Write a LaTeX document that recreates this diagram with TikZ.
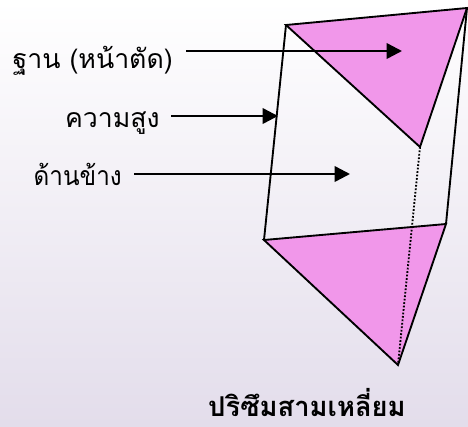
\documentclass[tikz,border=0pt]{standalone}
\usepackage{fontspec}
\setmainfont{Liberation Serif}
\newfontfamily\thaifont[Script=Thai]{Loma}
\usetikzlibrary{arrows.meta}
\definecolor{facepink}{HTML}{F197EA}
\definecolor{bgtop}{HTML}{FFFFFF}
\definecolor{bgbot}{HTML}{E3DDEB}
\tikzset{
  edgeline/.style={line width=1.4pt,black},
  facetri/.style={fill=facepink,draw=black,line width=1.4pt,line join=miter},
  hiddenline/.style={line width=1.4pt,black,dash pattern=on 1.3pt off 1.3pt},
  pointer/.style={line width=1.9pt,-{Triangle[length=11.5pt,width=11.5pt]}},
  lbl/.style={font=\thaifont\fontsize{20}{24}\selectfont,inner sep=0pt,text=black},
  ttl/.style={font=\thaifont\bfseries\fontsize{20.5}{24}\selectfont,inner sep=0pt,text=black}
}
\begin{document}
\begin{tikzpicture}[x=0.75pt,y=-0.75pt]
\useasboundingbox (0,0) rectangle (468,426);
\shade[top color=bgtop,bottom color=bgbot] (0,0) rectangle (468,426);
\coordinate (A) at (286,25);
\coordinate (B) at (467,8);
\coordinate (C) at (420,147);
\coordinate (D) at (264,240);
\coordinate (E) at (446,224);
\coordinate (F) at (398,365);
\draw[facetri] (A) -- (B) -- (C) -- cycle;
\draw[facetri] (D) -- (E) -- (F) -- cycle;
\draw[edgeline] (A) -- (D);
\draw[edgeline] (B) -- (E);
\draw[hiddenline] (C) -- (F);
\node[lbl,anchor=base east] (base) at (173,68) {ฐาน (หน้าตัด)};
\node[lbl,anchor=base east] (height) at (160,127) {ความสูง};
\node[lbl,anchor=base east,xscale=0.91] (side) at (122,185) {ด้านข้าง};
\node[ttl,anchor=base] (title) at (307,416) {ปริซึมสามเหลี่ยม};
\coordinate (baseS) at (186,51);
\coordinate (baseE) at (402,51);
\coordinate (heightS) at (171,116);
\coordinate (heightE) at (278,116);
\coordinate (sideS) at (134,174);
\coordinate (sideE) at (350,174);
\draw[pointer] (baseS) -- (baseE);
\draw[pointer] (heightS) -- (heightE);
\draw[pointer] (sideS) -- (sideE);
\end{tikzpicture}
\end{document}
